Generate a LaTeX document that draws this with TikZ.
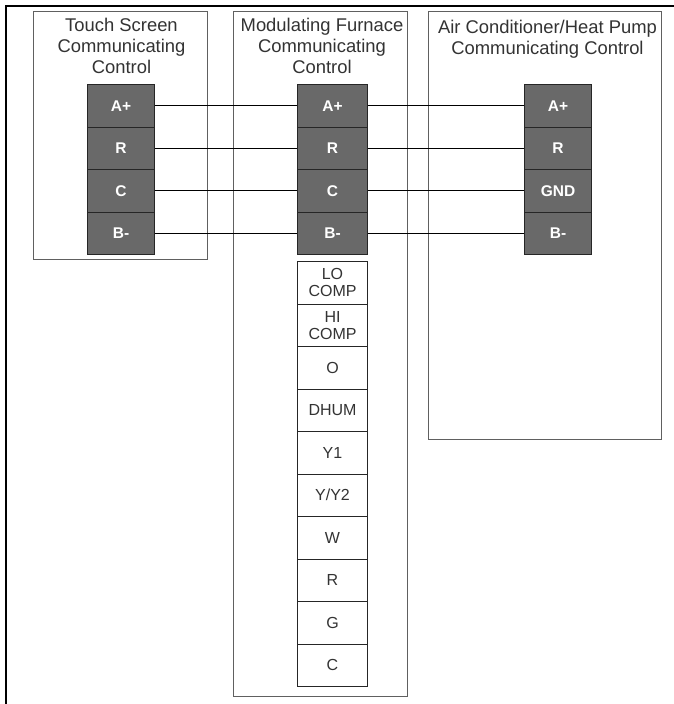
\documentclass[tikz,border=0pt]{standalone}
\usepackage{fontspec}
\setmainfont{Liberation Sans}
\definecolor{txt}{HTML}{333333}
\definecolor{cellfill}{HTML}{696969}
\definecolor{boxline}{HTML}{606060}
\tikzset{
  x=1pt,y=-1pt,
  container/.style={draw=boxline,line width=1pt,fill=none,rectangle,inner sep=0pt,anchor=north west},
  title/.style={text=txt,align=center,inner sep=0pt,font=\fontsize{18.4}{21}\selectfont},
  dark/.style={draw=black!85,line width=1pt,fill=cellfill,text=white,rectangle,inner sep=0pt,anchor=north west,minimum height=42.5pt,font=\fontsize{15.5}{16}\selectfont\bfseries},
  light/.style={draw=black!85,line width=1pt,fill=white,text=txt,rectangle,inner sep=0pt,anchor=north west,minimum height=42.5pt,minimum width=70pt,align=center,font=\fontsize{16}{17}\selectfont},
  wire/.style={draw=black,line width=0.8pt},
  frameline/.style={draw=black,line width=2pt}
}
\begin{document}
\begin{tikzpicture}
\useasboundingbox (0,0) rectangle (674,704);
\fill[white] (0,0) rectangle (674,704);
\coordinate (fa) at (5.5,704);
\coordinate (fb) at (5.5,5.5);
\coordinate (fc) at (674,5.5);
\draw[frameline] (fa) -- (fb) -- (fc);
% containers
\node[container,minimum width=174pt,minimum height=248pt] (touch) at (33,11) {};
\node[container,minimum width=174pt,minimum height=685pt] (furn) at (233,11) {};
\node[container,minimum width=233pt,minimum height=428pt] (ac) at (428,11) {};
% titles
\node[title,anchor=north] (ttouch) at (121.5,18) {Touch Screen\\Communicating\\Control};
\node[title,anchor=north] (tfurn) at (322,18) {Modulating Furnace\\Communicating\\Control};
\node[title,anchor=north] (tac) at (547.5,19.5) {Air Conditioner/Heat Pump\\Communicating Control};
% terminals
\begin{scope}[dark/.append style={minimum width=67pt}]
\node[dark] (ta) at (87,84) {A+};
\node[dark] (tr) at (87,126.5) {R};
\node[dark] (tc) at (87,169) {C};
\node[dark] (tb) at (87,211.5) {B-};
\node[dark] (aa) at (524,84) {A+};
\node[dark] (ar) at (524,126.5) {R};
\node[dark] (ag) at (524,169) {GND};
\node[dark] (ab) at (524,211.5) {B-};
\end{scope}
\begin{scope}[dark/.append style={minimum width=70pt}]
\node[dark] (fa1) at (297,84) {A+};
\node[dark] (fr1) at (297,126.5) {R};
\node[dark] (fc1) at (297,169) {C};
\node[dark] (fb1) at (297,211.5) {B-};
\end{scope}
\foreach \p/\q in {ta/fa1,tr/fr1,tc/fc1,tb/fb1,fa1/aa,fr1/ar,fc1/ag,fb1/ab}
  \draw[wire] (\p.east) -- (\q.west);
% lower terminal strip
\node[light] (lo) at (297,261) {LO\\COMP};
\node[light] (hi) at (297,303.5) {HI\\COMP};
\node[light] (o) at (297,346) {O};
\node[light] (dh) at (297,388.5) {DHUM};
\node[light] (y1) at (297,431) {Y1};
\node[light] (y2) at (297,473.5) {Y/Y2};
\node[light] (w) at (297,516) {W};
\node[light] (r) at (297,558.5) {R};
\node[light] (g) at (297,601) {G};
\node[light] (c) at (297,643.5) {C};
\end{tikzpicture}
\end{document}
